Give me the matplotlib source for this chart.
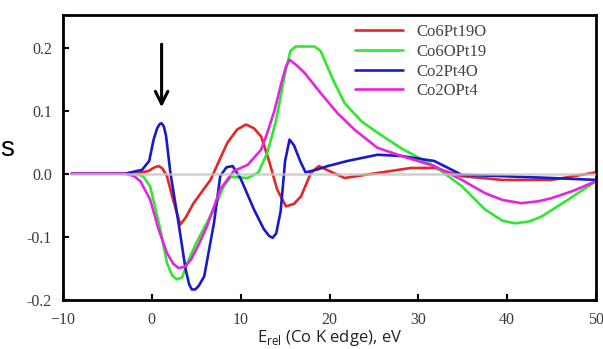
import numpy as np
from matplotlib import pyplot as plt
from matplotlib.patches import Arc

plt.rcParams['font.family'] = ['Liberation Serif', 'DejaVu Serif']

# difference spectra vs. energy relative to the Co K edge (eV)
x_red = [-9, -2, -0.4, 0.3, 0.8, 1.2, 1.7, 2.5, 3.2, 3.8, 4.7, 6.6, 8.5, 9.6, 10.6, 11.5,
         12.3, 13.2, 14.1, 15.1, 16.0, 16.8, 17.9, 18.8, 20.0, 21.7, 25.4, 29.2, 31.8, 34.9,
         39.4, 45, 50]
y_red = [0, 0, 0.004, 0.010, 0.012, 0.008, -0.004, -0.047, -0.081, -0.070, -0.047, -0.010,
         0.049, 0.070, 0.078, 0.072, 0.059, 0.020, -0.025, -0.052, -0.048, -0.036, 0.001,
         0.012, 0.004, -0.007, 0.001, 0.009, 0.009, -0.004, -0.010, -0.010, 0.002]

x_green = [-9, -2, -1, -0.2, 0.96, 1.7, 2.3, 2.8, 3.4, 4.0, 5.0, 6.2, 7.2, 8.1, 8.9, 9.8,
           10.8, 12.0, 13.0, 14.0, 15.0, 15.6, 16.2, 18.3, 19.0, 19.6, 20.4, 21.7, 23.6,
           25.4, 28.1, 31.8, 34.9, 37.5, 39.5, 40.9, 42.5, 43.9, 46.9, 50]
y_green = [0, 0, -0.004, -0.020, -0.089, -0.142, -0.162, -0.168, -0.165, -0.142, -0.110,
           -0.078, -0.050, -0.020, -0.005, -0.006, -0.007, 0.002, 0.033, 0.085, 0.160,
           0.195, 0.202, 0.202, 0.195, 0.175, 0.149, 0.112, 0.083, 0.065, 0.040, 0.012,
           -0.020, -0.057, -0.075, -0.079, -0.076, -0.068, -0.041, -0.012]

x_blue = [-9, -3, -1.1, -0.3, 0.2, 0.6, 0.9, 1.1, 1.35, 1.6, 2.1, 3.0, 3.8, 4.2, 4.5, 4.9,
          5.3, 5.9, 7.0, 7.7, 8.4, 9.1, 10.0, 11.5, 12.6, 13.2, 13.6, 14.0, 14.5, 15.0, 15.5,
          16.0, 16.7, 17.3, 18.5, 19.8, 22.0, 25.4, 28.1, 31.8, 34.9, 39.4, 45, 50]
y_blue = [0, 0, 0.006, 0.020, 0.054, 0.072, 0.079, 0.080, 0.075, 0.060, 0.0, -0.078,
          -0.152, -0.176, -0.184, -0.184, -0.178, -0.163, -0.078, -0.004, 0.010, 0.012,
          -0.008, -0.057, -0.088, -0.099, -0.102, -0.095, -0.060, 0.020, 0.054, 0.045,
          0.020, 0.002, 0.006, 0.012, 0.020, 0.030, 0.028, 0.020, -0.002, -0.004, -0.007,
          -0.010]

x_mag = [-9, -3, -2, -1.3, -0.2, 0.77, 1.7, 2.4, 3.0, 3.7, 4.4, 5.3, 6.2, 7.7, 9.2, 10.8,
         12.3, 13.0, 13.8, 14.6, 15.1, 15.5, 16.3, 17.2, 19.0, 20.9, 22.8, 25.4, 28.1, 31.8,
         34.9, 37.5, 39.5, 41.6, 43.5, 45, 47.5, 50]
y_mag = [0, 0, -0.004, -0.012, -0.041, -0.089, -0.126, -0.143, -0.150, -0.148, -0.137,
         -0.112, -0.084, -0.025, 0.004, 0.014, 0.038, 0.065, 0.100, 0.145, 0.170, 0.181,
         0.172, 0.160, 0.128, 0.096, 0.070, 0.041, 0.028, 0.012, -0.010, -0.031, -0.042,
         -0.047, -0.044, -0.039, -0.027, -0.012]

labels = ['Co6Pt19O', 'Co6OPt19', 'Co2Pt4O', 'Co2OPt4']
colors = ['#e5262a', '#2ee82e', '#1a1ac8', '#e424e0']

xticks = [-10, 0, 10, 20, 30, 40, 50]
yticks = [-0.2, -0.1, 0.0, 0.1, 0.2]
ytick_labels = ['-0.2', '-0.1', '0.0', '0.1', '0.2']

fig = plt.figure(figsize=(6.03, 3.49), dpi=100)
ax = fig.add_axes([63 / 603, 1 - 299.5 / 349, 533 / 603, 284.5 / 349])

series = [(x_red, y_red), (x_green, y_green), (x_blue, y_blue), (x_mag, y_mag)]
for (xs, ys), lab, c in zip(series, labels, colors):
    ax.plot(xs, ys, color=c, lw=1.9, label=lab, solid_capstyle='round',
            solid_joinstyle='round')

ax.plot([-9, 50], [0, 0], color='#c4c4c4', lw=1.8, alpha=0.8, zorder=5)

ax.annotate('', xy=(1.1, 0.101), xytext=(1.1, 0.21),
            arrowprops=dict(arrowstyle='->,head_length=0.9,head_width=0.45',
                            color='black', lw=2.2))

ax.set_xlim(-10, 50)
ax.set_ylim(-0.2, 0.252)
ax.set_xticks(xticks)
ax.set_yticks(yticks)
ax.set_yticklabels(ytick_labels)
ax.tick_params(direction='in', length=4, width=1.5, labelsize=11.5, colors='black',
               labelcolor='#3a3a3a', top=False, right=False)
ax.tick_params(axis='x', pad=9)
ax.tick_params(axis='y', pad=8)
for s in ax.spines.values():
    s.set_linewidth(2.0)

ax.set_xlabel(r'E$_\mathregular{rel}$ (Co K edge), eV', family=['Open Sans', 'DejaVu Sans'],
              fontsize=12, color='#222222', labelpad=0)

ax.legend(loc='upper left', bbox_to_anchor=(0.52, 1.02), frameon=False, fontsize=12,
          handlelength=2.9, handletextpad=0.8, labelspacing=0.22,
          labelcolor='#444444')

# stray bits of the surrounding slide
fig.text(0.5 / 603, 1 - 149 / 349, 's', ha='left', va='center', fontsize=20,
         family=['Liberation Sans', 'DejaVu Sans'], color='black')
fig.add_artist(Arc((40 / 603, 1 - 380 / 349), 80 / 603, 120 / 349, theta1=140, theta2=180,
                   transform=fig.transFigure, color='#d82020', lw=1.5))

plt.savefig('out.png', dpi=100)
